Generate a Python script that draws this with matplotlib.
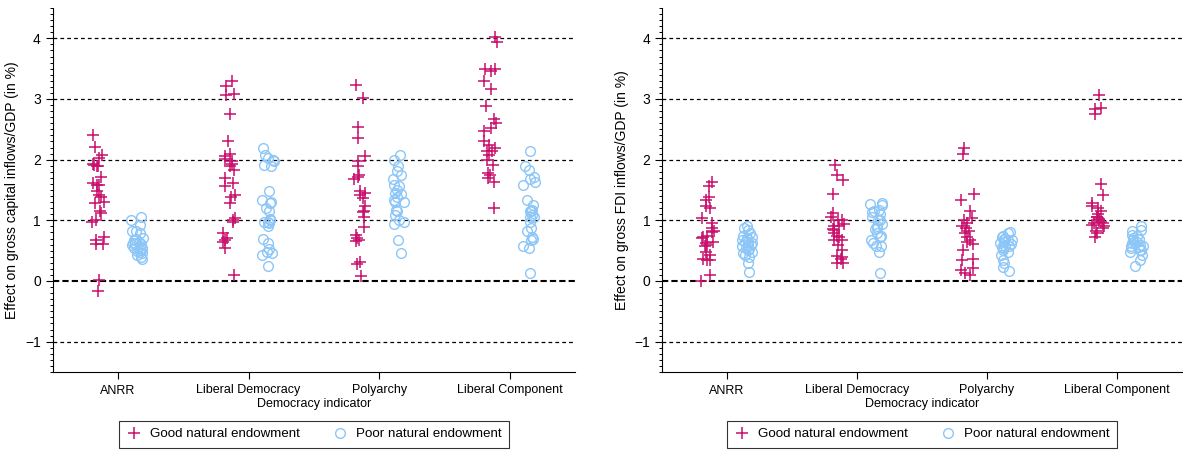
import numpy as np
import matplotlib.pyplot as plt
from matplotlib.ticker import MultipleLocator

plt.rcParams['font.family'] = ['Liberation Sans', 'DejaVu Sans']

# -------------- data --------------
categories = ['ANRR', 'Liberal Democracy', 'Polyarchy', 'Liberal Component']

# left panel: gross capital inflows/GDP
cap_good = [
    [2.40, 2.21, 2.08, 2.03, 1.93, 1.89, 1.89, 1.91, 1.72, 1.61, 1.59, 1.59, 1.48, 1.42,
     1.39, 1.31, 1.29, 1.16, 1.12, 1.01, 0.97, 0.73, 0.67, 0.61, 0.61, 0.02, -0.17],
    [3.29, 3.22, 3.09, 3.06, 2.75, 2.31, 2.10, 2.06, 2.01, 1.97, 1.93, 1.89, 1.83, 1.70,
     1.61, 1.56, 1.42, 1.39, 1.29, 1.04, 0.98, 1.01, 0.79, 0.71, 0.65, 0.68, 0.54, 0.10],
    [3.23, 3.02, 2.54, 2.35, 2.06, 1.97, 1.89, 1.72, 1.74, 1.68, 1.48, 1.45, 1.42, 1.37,
     1.23, 1.16, 1.13, 1.05, 0.89, 0.76, 0.67, 0.71, 0.66, 0.32, 0.28, 0.08],
    [4.03, 3.94, 3.50, 3.46, 3.50, 3.29, 3.17, 2.89, 2.67, 2.60, 2.52, 2.47, 2.30, 2.25,
     2.19, 2.15, 2.14, 2.07, 2.00, 1.91, 1.78, 1.70, 1.63, 1.74, 1.20],
]
cap_poor = [
    [1.05, 1.01, 0.93, 0.83, 0.82, 0.79, 0.71, 0.68, 0.65, 0.63, 0.61, 0.57, 0.54, 0.52,
     0.51, 0.48, 0.46, 0.43, 0.40, 0.37, 0.60, 0.55, 0.70, 0.50, 0.62],
    [2.19, 2.08, 2.03, 2.00, 1.97, 1.89, 1.92, 1.49, 1.31, 1.34, 1.28, 1.20, 1.15, 1.02,
     1.01, 0.98, 0.95, 0.98, 0.90, 0.69, 0.62, 0.52, 0.46, 0.48, 0.43, 0.25],
    [2.07, 2.00, 1.89, 1.82, 1.74, 1.68, 1.59, 1.56, 1.50, 1.44, 1.39, 1.45, 1.31, 1.31,
     1.34, 1.17, 1.16, 1.09, 1.01, 0.98, 0.94, 0.67, 0.46],
    [2.14, 1.89, 1.83, 1.71, 1.68, 1.63, 1.59, 1.34, 1.26, 1.17, 1.15, 1.16, 1.06, 1.09,
     1.05, 0.98, 0.87, 0.82, 0.73, 0.68, 0.69, 0.54, 0.57, 0.13],
]

# right panel: gross FDI inflows/GDP
fdi_good = [
    [1.63, 1.56, 1.39, 1.34, 1.23, 1.20, 1.04, 0.95, 0.87, 0.82, 0.73, 0.71, 0.65, 0.62,
     0.57, 0.48, 0.43, 0.37, 0.34, 0.35, 0.10, 0.00, 0.80, 0.60, 0.75],
    [1.92, 1.74, 1.67, 1.44, 1.12, 1.06, 1.01, 0.94, 0.90, 0.84, 0.79, 0.73, 0.74, 0.68,
     0.67, 0.51, 0.41, 0.39, 0.36, 0.30, 0.29, 0.90, 0.60, 0.85, 1.00],
    [2.20, 2.10, 1.44, 1.34, 1.16, 1.04, 1.00, 0.91, 0.87, 0.79, 0.73, 0.65, 0.61, 0.51,
     0.36, 0.35, 0.21, 0.13, 0.10, 0.18, 0.96, 0.68, 0.83],
    [3.06, 2.85, 2.84, 2.76, 1.60, 1.42, 1.28, 1.23, 1.15, 1.06, 1.06, 1.02, 0.98, 0.93,
     0.90, 0.87, 0.82, 0.79, 0.72, 1.01, 0.96, 1.10, 0.95, 1.20],
]
fdi_poor = [
    [0.91, 0.87, 0.73, 0.74, 0.71, 0.68, 0.65, 0.62, 0.60, 0.57, 0.51, 0.48, 0.46, 0.43,
     0.40, 0.79, 0.54, 0.29, 0.15, 0.65, 0.84, 0.58, 0.52, 0.70],
    [1.29, 1.26, 1.27, 1.17, 1.15, 1.13, 1.06, 1.01, 0.94, 0.87, 0.85, 0.79, 0.74, 0.73,
     0.67, 0.63, 0.57, 0.57, 0.48, 0.13, 1.01, 1.10, 0.90],
    [0.80, 0.73, 0.69, 0.67, 0.62, 0.61, 0.57, 0.54, 0.51, 0.48, 0.43, 0.35, 0.29, 0.23,
     0.17, 0.79, 0.68, 0.58, 0.64, 0.70, 0.56, 0.75],
    [0.91, 0.83, 0.84, 0.76, 0.71, 0.69, 0.65, 0.62, 0.57, 0.51, 0.48, 0.54, 0.43, 0.34,
     0.25, 0.67, 0.51, 0.60, 0.56, 0.74, 0.64, 0.58],
]

ylabels = ['Effect on gross capital inflows/GDP (in %)',
           'Effect on gross FDI inflows/GDP (in %)']

good_color = '#C8106C'
poor_color = '#8CC6F7'

# fixed jitter like Stata's jitter() option
rng = np.random.default_rng(3)


def draw_panel(ax, good, poor, ylabel):
    for i, (g, p) in enumerate(zip(good, poor)):
        pos = i + 1
        xg = pos - 0.15 + rng.uniform(-0.05, 0.05, len(g))
        xp = pos + 0.15 + rng.uniform(-0.05, 0.05, len(p))
        ax.plot(xg, g, linestyle='none', marker='+', color=good_color,
                markersize=8, markeredgewidth=1.1,
                label='Good natural endowment' if i == 0 else None)
        ax.plot(xp, p, linestyle='none', marker='o', markerfacecolor='none',
                markeredgecolor=poor_color, markersize=7, markeredgewidth=1.0,
                label='Poor natural endowment' if i == 0 else None)

    # dashed reference lines
    for yv in [-1, 1, 2, 3, 4]:
        ax.axhline(yv, color='black', linestyle=(0, (3, 2.5)), linewidth=0.9, zorder=0)
    ax.axhline(0, color='black', linestyle=(0, (3, 1.5)), linewidth=1.5, zorder=0)

    ax.set_xlim(0.5, 4.5)
    ax.set_ylim(-1.5, 4.5)
    ax.set_xticks(range(1, len(categories) + 1))
    ax.set_xticklabels(categories, fontsize=9)
    ax.set_yticks([-1, 0, 1, 2, 3, 4])
    ax.set_yticklabels(['\u22121', '0', '1', '2', '3', '4'], fontsize=10)
    ax.yaxis.set_minor_locator(MultipleLocator(0.1))
    ax.tick_params(axis='y', which='major', length=5, width=0.8, direction='out')
    ax.tick_params(axis='y', which='minor', length=2.5, width=0.7, direction='out')
    ax.tick_params(axis='x', length=5, width=0.8, direction='out', pad=4)
    ax.spines['top'].set_visible(False)
    ax.spines['right'].set_visible(False)
    ax.set_xlabel('Democracy indicator', fontsize=9, labelpad=1)
    ax.set_ylabel(ylabel, fontsize=10, labelpad=4)

    leg = ax.legend(loc='upper center', bbox_to_anchor=(0.5, -0.115), ncol=2,
                    frameon=True, fancybox=False, fontsize=9.6, handletextpad=0.6,
                    columnspacing=2.4, borderpad=0.55, handlelength=1.2)
    leg.get_frame().set_edgecolor('black')
    leg.get_frame().set_linewidth(0.8)


fig = plt.figure(figsize=(11.83, 4.5), dpi=100)
ax1 = fig.add_axes([52.6 / 1183, 78 / 450, 522.4 / 1183, 364 / 450])
ax2 = fig.add_axes([662 / 1183, 78 / 450, 520 / 1183, 364 / 450])

draw_panel(ax1, cap_good, cap_poor, ylabels[0])
draw_panel(ax2, fdi_good, fdi_poor, ylabels[1])

fig.savefig('out.png', dpi=100)
